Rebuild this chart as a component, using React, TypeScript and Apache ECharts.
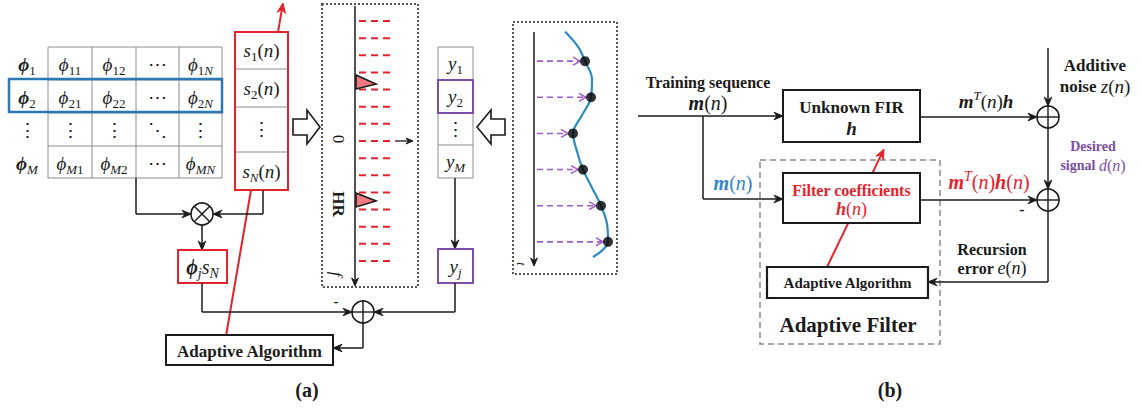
import React, { useEffect, useRef } from 'react';
import * as echarts from 'echarts';

const SERIF = 'Liberation Serif, Times New Roman, serif';
const K = '#1b1b1b';
const GRAY = '#8c8c8c';
const RED = '#e3232c';
const BLUE = '#2b78b5';
const PURPLE = '#7b4fa6';
const PURPLE_L = '#a05cc8';

// ---------- textual content ----------
const phiRowLabels = ['{bi|ϕ}{sb|1}', '{bi|ϕ}{sb|2}', '{n|⋮}', '{bi|ϕ}{si|M}'];
const phiCells = [
  ['{i|ϕ}{sb|11}', '{i|ϕ}{sb|12}', '{n|⋯}', '{i|ϕ}{sb|1}{si|N}'],
  ['{i|ϕ}{sb|21}', '{i|ϕ}{sb|22}', '{n|⋯}', '{i|ϕ}{sb|2}{si|N}'],
  ['{n|⋮}', '{n|⋮}', '{n|⋱}', '{n|⋮}'],
  ['{i|ϕ}{si|M}{sb|1}', '{i|ϕ}{si|M}{sb|2}', '{n|⋯}', '{i|ϕ}{si|MN}'],
];
const sSignals = [
  '{i|s}{sb|1}{n|(}{i|n}{n|)}',
  '{i|s}{sb|2}{n|(}{i|n}{n|)}',
  '{n|⋮}',
  '{i|s}{si|N}{n|(}{i|n}{n|)}',
];
const yValues = ['{i|y}{sb|1}', '{i|y}{sb|2}', '{n|⋮}', '{i|y}{si|M}'];
const freqBins = ['b1', 'b2', 'b3', 'b4', 'b5', 'b6', 'b7', 'b8', 'b9', 'b10', 'b11', 'b12', 'b13', 'b14', 'b15'];

// sampled signal (amplitude, time)
const sampleTime = [1, 2, 3, 4, 5, 6];
const sampleAmp = [51, 57, 39, 49, 67, 74];
const curveTime = [0.18, 0.6, 1, 1.5, 2, 2.5, 3, 3.5, 4, 4.5, 5, 5.5, 6, 6.42];
const curveAmp = [31, 44, 51, 58, 57, 48, 39, 43, 49, 58, 67, 73, 74, 59];

function rich(size: number, color: string, math: number) {
  const base: any = { fontFamily: SERIF, fill: color, fontSize: math, lineHeight: math + 6 };
  const sub = Math.round(math * 0.7);
  const sb: any = { fontFamily: SERIF, fill: color, fontSize: sub, lineHeight: sub + 2 };
  return {
    n: { ...base },
    b: { ...base, fontSize: size, fontWeight: 'bold' },
    i: { ...base, fontStyle: 'italic' },
    bi: { ...base, fontStyle: 'italic', fontWeight: 'bold' },
    sb: { ...sb, verticalAlign: 'bottom' },
    si: { ...sb, fontStyle: 'italic', verticalAlign: 'bottom' },
    sp: { ...sb, fontStyle: 'italic', verticalAlign: 'top' },
  };
}

function buildOption() {
  const els: any[] = [];
  const line = (x1: number, y1: number, x2: number, y2: number, stroke = K, lw = 1.5, dash?: number[]) =>
    els.push({ type: 'line', silent: true, shape: { x1, y1, x2, y2 }, style: { stroke, lineWidth: lw, lineDash: dash } });
  const rect = (x: number, y: number, w: number, h: number, stroke: string, lw: number, fill = '#fff', dash?: number[]) =>
    els.push({ type: 'rect', silent: true, shape: { x, y, width: w, height: h }, style: { stroke, lineWidth: lw, fill, lineDash: dash } });
  const text = (x: number, y: number, t: string, size: number, color = K, bold = false, rot = 0, math = size) =>
    els.push({
      type: 'text', silent: true, x, y, rotation: rot,
      style: {
        text: t, rich: rich(size, color, math), fill: color, fontFamily: SERIF, fontSize: size,
        fontWeight: bold ? 'bold' : 'normal', align: 'center', verticalAlign: 'middle',
        textAlign: 'center', textVerticalAlign: 'middle',
      },
    });
  const arrow = (pts: number[][], color = K, lw = 1.5, head = 9) => {
    const n = pts.length;
    const [x2, y2] = pts[n - 1];
    const [x1, y1] = pts[n - 2];
    const a = Math.atan2(y2 - y1, x2 - x1);
    const c = Math.cos(a), s = Math.sin(a);
    const bx = x2 - head * c, by = y2 - head * s;
    const ix = x2 - head * 0.65 * c, iy = y2 - head * 0.65 * s;
    els.push({ type: 'polyline', silent: true, shape: { points: [...pts.slice(0, n - 1), [ix, iy]] }, style: { stroke: color, lineWidth: lw, fill: null } });
    const w = head * 0.42;
    els.push({
      type: 'polygon', silent: true,
      shape: { points: [[x2, y2], [bx + w * s, by - w * c], [ix, iy], [bx - w * s, by + w * c]] },
      style: { fill: color, stroke: color, lineWidth: 1 },
    });
  };
  const circle = (cx: number, cy: number, r: number, kind: 'plus' | 'times') => {
    els.push({ type: 'circle', silent: true, shape: { cx, cy, r }, style: { fill: '#fff', stroke: K, lineWidth: 1.6 } });
    if (kind === 'plus') {
      line(cx - r, cy, cx + r, cy, K, 1.4);
      line(cx, cy - r, cx, cy + r, K, 1.4);
    } else {
      const d = r * 0.707;
      line(cx - d, cy - d, cx + d, cy + d, K, 1.4);
      line(cx - d, cy + d, cx + d, cy - d, K, 1.4);
    }
  };
  const hollow = (pts: number[][]) =>
    els.push({ type: 'polygon', silent: true, shape: { points: pts }, style: { fill: '#fff', stroke: K, lineWidth: 1.6 } });

  // ================= Panel (a) =================
  const tx = [48, 92, 136, 179, 222];
  const ty = [47, 80, 113, 146, 178];
  tx.forEach((x) => line(x, ty[0], x, ty[4], GRAY, 1));
  ty.forEach((y) => line(tx[0], y, tx[4], y, GRAY, 1));
  phiCells.forEach((row, r) =>
    row.forEach((c, k) => text((tx[k] + tx[k + 1]) / 2, (ty[r] + ty[r + 1]) / 2 + 1, c, 19)));
  phiRowLabels.forEach((c, r) => text(27, (ty[r] + ty[r + 1]) / 2 + 1, c, 19));
  rect(9, 79, 213, 33, BLUE, 2.5, 'none');

  // red adaptive update line
  arrow([[226, 336], [283, 3]], RED, 2, 10);

  // s column
  const sy = [32, 69, 107, 152, 190];
  rect(235, 32, 53, 158, RED, 2, '#fff');
  sy.slice(1, 4).forEach((y) => line(236, y, 287, y, GRAY, 1));
  sSignals.forEach((c, r) => text(261.5, (sy[r] + sy[r + 1]) / 2, c, 19));

  hollow([[293, 119], [307, 119], [307, 110], [320, 127], [307, 144], [307, 135], [293, 135]]);

  // HR spectrum box
  rect(322, 4, 96, 283, '#555', 2, 'none', [2, 2]);
  const step = (261 - 21) / (freqBins.length - 1);
  freqBins.forEach((_, i) => line(359, 21 + i * step, 394, 21 + i * step, RED, 2, [7, 5]));
  arrow([[355, 6], [355, 286]], K, 1.5, 8);
  arrow([[395, 141], [413, 141]], K, 1.3, 7);
  els.push({ type: 'polygon', silent: true, shape: { points: [[356, 75], [376, 84], [356, 89]] }, style: { fill: '#f07a80', stroke: K, lineWidth: 1.6 } });
  els.push({ type: 'polygon', silent: true, shape: { points: [[356, 193], [376, 201], [356, 207]] }, style: { fill: '#f07a80', stroke: K, lineWidth: 1.6 } });
  text(338, 139, '0', 17, K, false, -Math.PI / 2);
  text(338, 204, 'HR', 17, K, true, -Math.PI / 2);
  text(336, 274, '{i|f}', 17, K, false, -Math.PI / 2);

  // y column
  const yy = [47, 80, 113, 145, 178];
  yy.forEach((y) => line(438, y, 473, y, GRAY, 1));
  line(438, 47, 438, 178, GRAY, 1);
  line(473, 47, 473, 178, GRAY, 1);
  rect(438, 80, 35, 33, PURPLE, 2, 'none');
  yValues.forEach((c, r) => text(455.5, (yy[r] + yy[r + 1]) / 2, c, 19));
  arrow([[455, 178], [455, 249]], K, 1.5, 9);
  rect(438, 249, 35, 34, PURPLE, 2, '#fff');
  text(455.5, 266, '{i|y}{si|j}', 19);

  hollow([[505, 119], [491, 119], [491, 110], [477, 127], [491, 144], [491, 135], [505, 135]]);

  // time-domain box
  rect(513, 22, 104, 252, '#555', 2, 'none', [2, 2]);
  arrow([[534, 32], [534, 266]], K, 1.5, 8);
  text(521, 264, '{i|t}', 12, K, false, -Math.PI / 2);

  // multiplication node
  line(136, 178, 136, 214);
  arrow([[136, 214], [191, 214]], K, 1.5, 9);
  line(263, 190, 263, 214);
  arrow([[263, 214], [213, 214]], K, 1.5, 9);
  circle(202, 214, 11, 'times');
  arrow([[202, 225], [202, 250]], K, 1.5, 9);
  rect(178, 250, 49, 33, RED, 2, '#fff');
  text(202.5, 267, '{bi|ϕ}{si|j}{i|s}{si|N}', 20);

  // summation node (a)
  line(202, 283, 202, 312);
  arrow([[202, 312], [352, 312]], K, 1.5, 9);
  line(455, 283, 455, 312);
  arrow([[455, 312], [374, 312]], K, 1.5, 9);
  circle(363, 312, 11, 'plus');
  text(336, 301, '-', 15, K, true);
  line(363, 323, 363, 348);
  arrow([[363, 348], [333, 348]], K, 1.5, 9);
  rect(166, 335, 167, 30, K, 2, '#fff');
  text(249.5, 351, 'Adaptive Algorithm', 17, K, true);
  text(307, 390, '(a)', 20, K, true);

  // ================= Panel (b) =================
  text(708, 82, 'Training sequence', 16, K, true);
  text(708, 103, '{bi|m}{n|(}{i|n}{n|)}', 20);
  arrow([[638, 116], [783, 116]], K, 1.5, 9);
  line(703, 116, 703, 199);
  arrow([[703, 199], [783, 199]], K, 1.5, 9);
  text(733, 183, '{bi|m}{n|(}{i|n}{n|)}', 20, '#2e86c8');

  rect(760, 160, 180, 184, '#8a8a8a', 1.5, 'none', [6, 4]);
  arrow([[827, 267], [884, 149]], RED, 2, 10);

  rect(783, 90, 137, 52, K, 2, '#fff');
  text(851.5, 107, 'Unknown FIR', 17, K, true);
  text(851.5, 128, '{bi|h}', 19);

  rect(783, 173, 137, 50, K, 2, '#fff');
  text(851.5, 190, 'Filter coefficients', 16, RED, true);
  text(851.5, 209, '{bi|h}{n|(}{i|n}{n|)}', 18, RED);

  rect(767, 267, 161, 31, K, 2.2, '#fff');
  text(847.5, 283, 'Adaptive Algorithm', 15, K, true);
  text(848, 325, 'Adaptive Filter', 21, K, true);

  // upper sum
  text(986, 101, '{bi|m}{sp|T}{n|(}{i|n}{n|)}{bi|h}', 19);
  arrow([[920, 117], [1037, 117]], K, 1.5, 9);
  arrow([[1048, 48], [1048, 106]], K, 1.5, 9);
  circle(1048, 117, 11, 'plus');
  text(1095, 65, 'Additive', 17, K, true);
  text(1095, 86, '{b|noise }{i|z}{n|(}{i|n}{n|)}', 17, K, false, 0, 19);

  arrow([[1048, 128], [1048, 189]], K, 1.5, 9);
  circle(1048, 200, 11, 'plus');
  text(1093, 146, '{b|Desired}', 14, PURPLE);
  text(1093, 165, '{b|signal }{i|d}{n|(}{i|n}{n|)}', 14, PURPLE, false, 0, 16);

  text(989, 182, '{bi|m}{sp|T}{n|(}{i|n}{n|)}{bi|h}{n|(}{i|n}{n|)}', 20, RED);
  arrow([[920, 200], [1037, 200]], K, 1.5, 9);
  text(1022, 209, '-', 16, K, true);

  line(1048, 211, 1048, 282);
  arrow([[1048, 282], [928, 282]], K, 1.5, 9);
  text(992, 249, 'Recursion', 16, K, true);
  text(992, 268, '{b|error }{i|e}{n|(}{i|n}{n|)}', 16, K, false, 0, 18);
  text(890, 390, '(b)', 20, K, true);

  const samples = sampleTime.map((t, i) => [sampleAmp[i], t]);
  const curve = curveTime.map((t, i) => [curveAmp[i], t]);

  return {
    animation: false,
    backgroundColor: '#fff',
    grid: { left: 534, top: 25, width: 80, height: 253, show: false },
    xAxis: { type: 'value', min: 0, max: 80, show: false },
    yAxis: { type: 'value', min: 0, max: 7, inverse: true, show: false },
    series: [
      {
        type: 'line', data: curve, smooth: 0.35, symbol: 'none', silent: true,
        lineStyle: { color: '#2a8cc2', width: 2.2 }, z: 3,
      },
      {
        type: 'custom', data: samples, silent: true, z: 4,
        renderItem: (_p: any, api: any) => {
          const a = api.value(0), t = api.value(1);
          const p0 = api.coord([0, t]);
          const p1 = api.coord([a, t]);
          const ex = p1[0] - 5;
          return {
            type: 'group',
            children: [
              { type: 'line', shape: { x1: p0[0] + 3, y1: p0[1], x2: ex, y2: p1[1] }, style: { stroke: PURPLE_L, lineWidth: 1.6, lineDash: [6, 4] } },
              { type: 'polyline', shape: { points: [[ex - 7, p1[1] - 4], [ex, p1[1]], [ex - 7, p1[1] + 4]] }, style: { stroke: PURPLE_L, lineWidth: 1.5, fill: null } },
            ],
          };
        },
      },
      {
        type: 'scatter', data: samples, symbolSize: 10, silent: true, z: 5,
        itemStyle: { color: '#000' },
      },
    ],
    graphic: { elements: els },
  };
}

export default function App() {
  const ref = useRef<HTMLDivElement>(null);
  useEffect(() => {
    const chart = echarts.init(ref.current!, null, { renderer: 'svg' });
    chart.setOption(buildOption() as any);
    return () => chart.dispose();
  }, []);
  return (
    <div
      ref={ref}
      style={{ position: 'fixed', left: 0, top: 0, width: 1141, height: 410, background: '#fff' }}
    />
  );
}
